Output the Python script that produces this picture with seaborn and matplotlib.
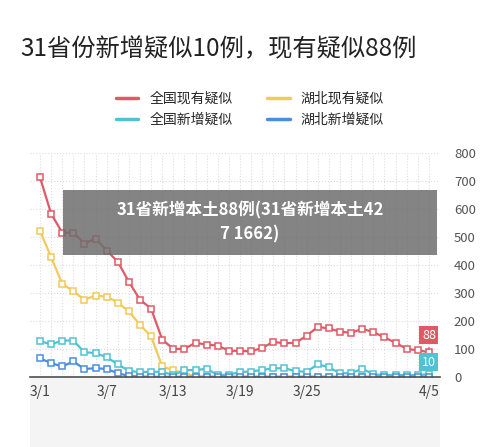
import matplotlib
matplotlib.use('Agg')
import matplotlib.pyplot as plt
import seaborn as sns
import pandas as pd
import numpy as np

dates = pd.date_range('2020-03-01', '2020-04-05')
tick_labels = ['3/1', '3/7', '3/13', '3/19', '3/25', '4/5']

national_current = [714, 584, 516, 516, 477, 495, 452, 412, 340, 276, 244, 133, 100, 100, 122, 115, 112, 93, 93,
                    91, 104, 125, 120, 122, 147, 179, 173, 162, 157, 172, 160, 141, 122, 100, 95, 88]
hubei_current = [523, 428, 333, 306, 276, 291, 287, 266, 234, 186, 145, 37, 23, 14, 1, 0, 0, 0, 0,
                 0, 0, 0, 0, 0, 0, 0, 0, 0, 0, 0, 0, 0, 0, 0, 0, 0]
national_new = [128, 116, 130, 130, 88, 85, 70, 45, 21, 17, 18, 18, 6, 24, 24, 29, 6, 8, 17,
                19, 25, 30, 31, 20, 18, 45, 34, 13, 13, 29, 9, 6, 7, 6, 6, 10]
hubei_new = [66, 49, 37, 55, 28, 31, 28, 13, 3, 1, 0, 0, 0, 0, 0, 0, 0, 0, 0,
             0, 0, 0, 0, 0, 0, 0, 0, 0, 0, 0, 0, 0, 0, 0, 0, 0]

names = ['全国现有疑似', '湖北现有疑似', '全国新增疑似', '湖北新增疑似']
colors = ['#e05a66', '#f3c95a', '#4fc3d2', '#4a8ee0']
series = [national_current, hubei_current, national_new, hubei_new]

sns.set_theme(style='white')
plt.rcParams['font.family'] = ['Noto Sans CJK SC', 'DejaVu Sans']

fig = plt.figure(figsize=(5, 4.47), dpi=100)
ax = fig.add_axes([0.06, 0.157, 0.82, 0.5])

for name, col, vals in zip(names, colors, series):
    sns.lineplot(x=np.arange(len(dates)), y=vals, ax=ax, color=col, lw=1.6, marker='s',
                 markersize=4, markerfacecolor='white', markeredgecolor=col, markeredgewidth=1.1,
                 label=name, legend=False)

ax.set_xlim(-0.9, 36)
ax.set_ylim(0, 800)
ax.set_yticks(range(0, 801, 100))
ax.yaxis.tick_right()
ax.tick_params(axis='y', length=0, labelsize=9.5, colors='#555555', pad=10)
tick_pos = [0, 6, 12, 18, 24, 35]
ax.set_xticks(tick_pos)
ax.set_xticklabels(tick_labels, fontsize=10, color='#444444')
ax.tick_params(axis='x', length=0, pad=6)
ax.set_xticks(np.arange(36), minor=True)
ax.grid(True, which='both', axis='x', color='#dddddd', ls=':', lw=0.8)
ax.grid(True, which='major', axis='y', color='#dddddd', ls=':', lw=0.8)
for s in ['top', 'right', 'left']:
    ax.spines[s].set_visible(False)
ax.spines['bottom'].set_color('#555555')

# end value labels
ax.annotate('88', (35, national_current[-1]), xytext=(35, 148), ha='center', va='center',
            fontsize=9, color='white', bbox=dict(boxstyle='square,pad=0.2', fc=colors[0], ec='none'),
            arrowprops=dict(arrowstyle='-', color=colors[0], lw=0.8))
ax.annotate('10', (35, national_new[-1]), xytext=(35, 52), ha='center', va='center',
            fontsize=9, color='white', bbox=dict(boxstyle='square,pad=0.2', fc=colors[2], ec='none'))

# light band under axis
band = fig.add_axes([0.06, 0.0, 0.82, 0.157])
band.set_facecolor('#f4f4f4')
band.set_xticks([])
band.set_yticks([])
for s in band.spines.values():
    s.set_visible(False)
band.set_zorder(-1)

fig.text(0.04, 0.89, '31省份新增疑似10例，现有疑似88例', fontsize=17.5, color='#222222', va='center')

handles = [plt.Line2D([], [], color=c, lw=2.5) for c in colors]
order = [0, 2, 1, 3]  # row-wise like the reference
fig.legend([handles[i] for i in order], [names[i] for i in order], ncol=2, loc='center',
           bbox_to_anchor=(0.5, 0.755), frameon=False,
           fontsize=10, handlelength=1.6, columnspacing=2.5, labelspacing=0.5)

fig.patches.append(plt.Rectangle((0.126, 0.43), 0.748, 0.145, transform=fig.transFigure,
                                 fc='#6e6e6e', alpha=0.85, ec='none'))
fig.text(0.5, 0.502, '31省新增本土88例(31省新增本土42\n7 1662)', ha='center', va='center',
         fontsize=12, fontweight='bold', color='white', linespacing=1.4)

fig.savefig('out.png', dpi=100, facecolor='white')
